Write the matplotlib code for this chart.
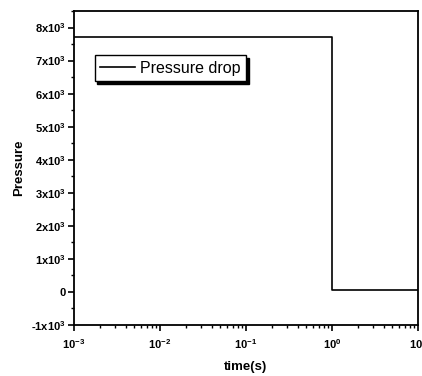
import math
import matplotlib
matplotlib.use("Agg")
import matplotlib.pyplot as plt
from matplotlib.ticker import FixedLocator, FuncFormatter, MultipleLocator, LogLocator, NullFormatter

time_s = [1e-3, 1.0, 1.0, 10.0]
pressure = [7700, 7700, 50, 50]
series_label = "Pressure drop"
y_ticks = [-1000, 0, 1000, 2000, 3000, 4000, 5000, 6000, 7000, 8000]
x_ticks = [1e-3, 1e-2, 1e-1, 1e0, 1e1]

plt.rcParams['font.family'] = ['Liberation Sans', 'DejaVu Sans']
plt.rcParams['mathtext.fontset'] = 'custom'
plt.rcParams['mathtext.rm'] = 'Liberation Sans:bold'
plt.rcParams['mathtext.it'] = 'Liberation Sans:bold'
plt.rcParams['mathtext.bf'] = 'Liberation Sans:bold'
plt.rcParams['mathtext.default'] = 'regular'

fig = plt.figure(figsize=(4.22, 3.76), dpi=100)
ax = fig.add_axes([74/422, 1-325/376, (418-74)/422, (325-11)/376])

ax.plot(time_s, pressure, color='black', lw=1.2, label=series_label)
ax.set_xscale('log')
ax.set_xlim(1e-3, 10)
ax.set_ylim(-1000, 8500)

ax.yaxis.set_major_locator(FixedLocator(y_ticks))
ax.yaxis.set_minor_locator(MultipleLocator(500))

def yfmt(v, pos):
    if v == 0:
        return '0'
    m = int(round(v / 1000))
    return f'{m}x10$^{{3}}$'
ax.yaxis.set_major_formatter(FuncFormatter(yfmt))

def xfmt(v, pos):
    e = int(round(math.log10(v)))
    return f'10$^{{{e}}}$'
ax.xaxis.set_major_locator(FixedLocator(x_ticks))
ax.xaxis.set_major_formatter(FuncFormatter(xfmt))
ax.xaxis.set_minor_locator(LogLocator(base=10, subs=range(2, 10), numticks=20))
ax.xaxis.set_minor_formatter(NullFormatter())

ax.tick_params(which='major', direction='out', length=4, width=1.2, labelsize=8, pad=2)
ax.tick_params(axis='x', which='major', pad=5)
ax.tick_params(which='minor', direction='out', length=2, width=1.0)
for lbl in ax.get_xticklabels() + ax.get_yticklabels():
    lbl.set_fontweight('bold')
for s in ax.spines.values():
    s.set_linewidth(1.3)

ax.set_xlabel('time(s)', fontsize=9.5, fontweight='bold', labelpad=7)
ax.set_ylabel('Pressure', fontsize=9.5, fontweight='bold', labelpad=4)

leg = ax.legend(loc='upper left', bbox_to_anchor=(0.06, 0.86), fontsize=11.5,
                frameon=True, fancybox=False,
                shadow={'color': 'black', 'alpha': 1.0, 'ox': 2, 'oy': -2},
                handlelength=2.2, borderpad=0.35, borderaxespad=0,
                handletextpad=0.3)
leg.get_frame().set_edgecolor('black')
leg.get_frame().set_linewidth(1.0)

fig.savefig('out.png', dpi=100)
